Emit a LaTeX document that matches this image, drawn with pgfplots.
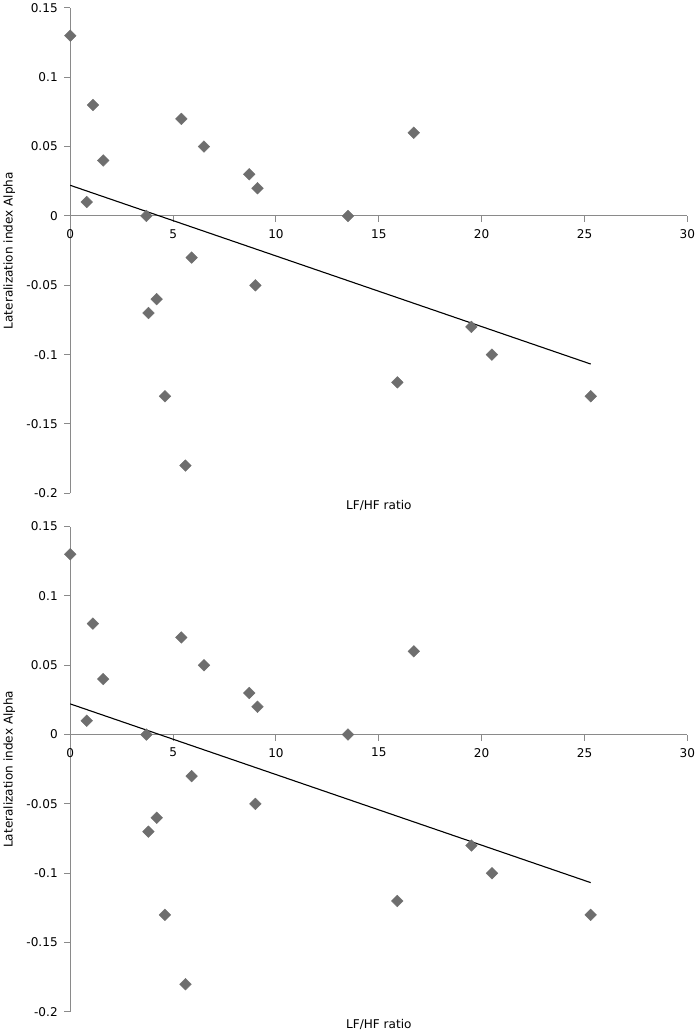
\documentclass[border=0pt]{standalone}
\usepackage{fontspec}
\setmainfont{DejaVu Sans}
\usepackage{pgfplots}
\usepackage{pgfplotstable}
\pgfplotsset{compat=1.18}
\definecolor{mk}{HTML}{6E6E6E}
\definecolor{ax}{HTML}{8A8A8A}
\pgfplotstableread{
x y
0 0.13
0.8 0.01
1.1 0.08
1.6 0.04
3.7 0.0
3.8 -0.07
4.2 -0.06
4.6 -0.13
5.4 0.07
5.6 -0.18
5.9 -0.03
6.5 0.05
8.7 0.03
9.0 -0.05
9.1 0.02
13.5 0.0
15.9 -0.12
16.7 0.06
19.5 -0.08
20.5 -0.1
25.3 -0.13
}\data
\pgfplotsset{panel/.style={
  scale only axis, width=614pt, height=483pt,
  xmin=0, xmax=30, ymin=-0.2, ymax=0.15,
  axis x line=middle, axis y line=left,
  every inner x axis line/.append style={-},
  every outer y axis line/.append style={-},
  every outer x axis line/.append style={-},
  every inner y axis line/.append style={-},
  axis line style={ax, line width=1pt},
  xtick={0,5,10,15,20,25,30},
  ytick={-0.2,-0.15,-0.1,-0.05,0,0.05,0.1,0.15},
  hide obscured x ticks=false, hide obscured y ticks=false,
  tick align=outside, major tick length=6pt,
  tick style={ax, line width=1pt},
  scaled y ticks=false,
  /pgf/number format/assume math mode=true,
  yticklabel style={/pgf/number format/fixed, /pgf/number format/precision=2, xshift=-3pt},
  xticklabel style={yshift=-4pt},
  tick label style={font=\fontsize{12}{14}\selectfont, black},
  xlabel={LF/HF ratio}, ylabel={Lateralization index Alpha},
  every axis x label/.style={at={(axis description cs:0.5,-0.008)}, anchor=north, font=\fontsize{12}{14}\selectfont},
  every axis y label/.style={at={(axis description cs:-0.099,0.5)}, anchor=center, rotate=90, font=\fontsize{12}{14}\selectfont},
  clip=false,
}}
\begin{document}
\begin{tikzpicture}
\begin{axis}[panel]
\addplot[only marks, mark=square*, mark size=4.1pt, mark options={rotate=45, fill=mk, draw=mk}] table[x=x,y=y] {\data};
\addplot[black, line width=1.1pt, no marks] table[x=x, y={create col/linear regression={y=y}}] {\data};
\end{axis}
\begin{axis}[panel, at={(0,-516pt)}]
\addplot[only marks, mark=square*, mark size=4.1pt, mark options={rotate=45, fill=mk, draw=mk}] table[x=x,y=y] {\data};
\addplot[black, line width=1.1pt, no marks] table[x=x, y={create col/linear regression={y=y}}] {\data};
\end{axis}
\end{tikzpicture}
\end{document}
